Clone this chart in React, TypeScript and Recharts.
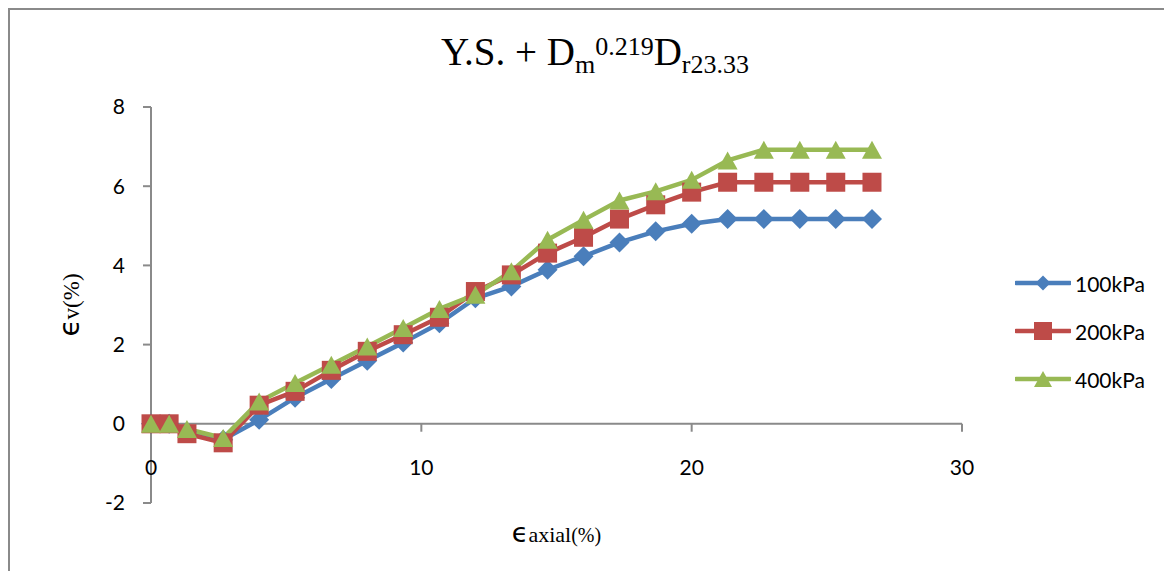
import React from "react";
import { LineChart, Line, XAxis, YAxis, ReferenceLine, Label } from "recharts";

// axial strain (%) at each reading
const axialStrain = [0, 0.67, 1.33, 2.67, 4, 5.33, 6.67, 8, 9.33, 10.67, 12, 13.33, 14.67, 16, 17.33, 18.67, 20, 21.33, 22.67, 24, 25.33, 26.67];
// volumetric strain (%) per confining pressure
const vol100 = [0, 0, -0.2, -0.4, 0.1, 0.66, 1.13, 1.59, 2.05, 2.54, 3.17, 3.47, 3.89, 4.23, 4.58, 4.86, 5.05, 5.17, 5.17, 5.17, 5.17, 5.17];
const vol200 = [0, 0, -0.25, -0.48, 0.47, 0.82, 1.35, 1.83, 2.25, 2.69, 3.34, 3.76, 4.31, 4.71, 5.17, 5.53, 5.85, 6.1, 6.1, 6.1, 6.1, 6.1];
const vol400 = [0, 0, -0.13, -0.36, 0.56, 1.03, 1.49, 1.95, 2.42, 2.9, 3.26, 3.85, 4.65, 5.15, 5.64, 5.87, 6.16, 6.65, 6.92, 6.92, 6.92, 6.92];

const xTicks = [0, 10, 20, 30];
const yTicks = [-2, 0, 2, 4, 6, 8];

const series = [
  { key: "p100", name: "100kPa", color: "#4a7ebb", shape: "diamond", values: vol100 },
  { key: "p200", name: "200kPa", color: "#be4b48", shape: "square", values: vol200 },
  { key: "p400", name: "400kPa", color: "#98b954", shape: "triangle", values: vol400 },
];

const data = axialStrain.map((x, i) => ({
  x,
  p100: vol100[i],
  p200: vol200[i],
  p400: vol400[i],
}));

const AXIS = "#8a8a8a";
const TICK_FONT = "Lato, 'Open Sans', sans-serif";
const SERIF = "'Liberation Serif', 'Times New Roman', serif";
const EPS_FONT = "'DejaVu Sans', sans-serif";

function Marker({ shape, cx, cy, color, s }: any) {
  if (shape === "diamond") {
    const h = s / 2;
    return <polygon points={`${cx},${cy - h} ${cx + h},${cy} ${cx},${cy + h} ${cx - h},${cy}`} fill={color} />;
  }
  if (shape === "square") {
    return <rect x={cx - s / 2} y={cy - s / 2} width={s} height={s} fill={color} />;
  }
  const h = s * 0.9;
  return <polygon points={`${cx},${cy - h / 2} ${cx + s / 2},${cy + h / 2} ${cx - s / 2},${cy + h / 2}`} fill={color} />;
}

const XTick = ({ x, y, payload }: any) => (
  <text x={x} y={y - 28} textAnchor="middle" fontSize={21} fontFamily={TICK_FONT} fill="#000">
    {payload.value}
  </text>
);

export default function App() {
  return (
    <div
      style={{
        position: "relative",
        width: 1162,
        height: 561,
        borderTop: `2px solid ${AXIS}`,
        borderLeft: `2px solid ${AXIS}`,
        background: "#fff",
      }}
    >
      <svg width={1162} height={90} style={{ position: "absolute", left: 0, top: 0 }}>
        <text x={585} y={55} textAnchor="middle" fontFamily={SERIF} fontSize={39} fill="#000">
          <tspan>Y.S. + D</tspan>
          <tspan fontSize={26} dy={8}>m</tspan>
          <tspan fontSize={26} dy={-18}>0.219</tspan>
          <tspan dy={10}>D</tspan>
          <tspan fontSize={26} dy={8}>r23.33</tspan>
        </text>
      </svg>

      <LineChart width={1162} height={561} data={data} margin={{ top: 97, right: 210, left: 81, bottom: 38 }}>
        <XAxis
          dataKey="x"
          type="number"
          domain={[0, 30]}
          ticks={xTicks}
          axisLine={false}
          tickLine={false}
          tickSize={0}
          tickMargin={0}
          height={30}
          tick={<XTick />}
        >
          <Label
            content={({ viewBox }: any) => (
              <text
                x={viewBox.x + viewBox.width / 2}
                y={viewBox.y + 39}
                textAnchor="middle"
                fontFamily={SERIF}
                fill="#000"
              >
                <tspan fontSize={27} fontFamily={EPS_FONT}>ϵ</tspan>
                <tspan fontSize={22}>axial</tspan>
                <tspan fontSize={20}>(%)</tspan>
              </text>
            )}
          />
        </XAxis>
        <YAxis
          type="number"
          domain={[-2, 8]}
          ticks={yTicks}
          width={60}
          axisLine={{ stroke: AXIS, strokeWidth: 2 }}
          tickLine={{ stroke: AXIS, strokeWidth: 2 }}
          tickSize={8}
          tickMargin={18}
          tick={{ fontSize: 21, fontFamily: TICK_FONT, fill: "#000" }}
        >
          <Label
            content={({ viewBox }: any) => {
              const cx = viewBox.x - 12;
              const cy = viewBox.y + viewBox.height / 2;
              return (
                <text
                  x={cx}
                  y={cy}
                  textAnchor="middle"
                  fontFamily={SERIF}
                  fill="#000"
                  transform={`rotate(-90 ${cx} ${cy})`}
                >
                  <tspan fontSize={28} fontFamily={EPS_FONT}>ϵ</tspan>
                  <tspan fontSize={23}>v(%)</tspan>
                </text>
              );
            }}
          />
        </YAxis>

        <ReferenceLine y={0} stroke={AXIS} strokeWidth={2} ifOverflow="extendDomain" />
        {xTicks.slice(1).map((t) => (
          <ReferenceLine
            key={t}
            segment={[{ x: t, y: 0 }, { x: t, y: -0.2 }]}
            stroke={AXIS}
            strokeWidth={2}
          />
        ))}

        {series.map((s) => (
          <Line
            key={s.key}
            dataKey={s.key}
            name={s.name}
            type="linear"
            stroke={s.color}
            strokeWidth={4.5}
            strokeLinejoin="round"
            isAnimationActive={false}
            dot={(p: any) => (
              <Marker key={`${s.key}-${p.index}`} shape={s.shape} cx={p.cx} cy={p.cy} color={s.color} s={s.shape === "square" ? 19 : 20} />
            )}
            activeDot={false}
          />
        ))}
      </LineChart>

      <div style={{ position: "absolute", left: 1005, top: 261 }}>
        {series.map((s, i) => (
          <div
            key={s.key}
            style={{ position: "absolute", left: 0, top: i * 48, height: 24, display: "flex", alignItems: "center", whiteSpace: "nowrap" }}
          >
            <svg width={56} height={24}>
              <line x1={1} y1={12} x2={55} y2={12} stroke={s.color} strokeWidth={4.5} strokeLinecap="round" />
              <Marker shape={s.shape} cx={28} cy={12} color={s.color} s={s.shape === "diamond" ? 15 : 18} />
            </svg>
            <span style={{ marginLeft: 4, fontFamily: TICK_FONT, fontSize: 21, color: "#000" }}>{s.name}</span>
          </div>
        ))}
      </div>
    </div>
  );
}
